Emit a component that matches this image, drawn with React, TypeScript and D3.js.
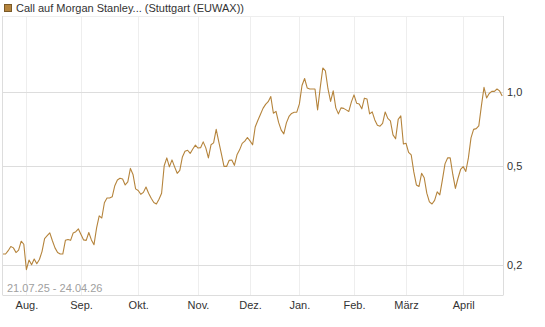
import React, { useRef, useEffect } from 'react';
import * as d3 from 'd3';

// one value per trading day, 21.07.25 - 24.04.26
const prices: number[] = [
  0.221, 0.221, 0.228, 0.237, 0.234, 0.224, 0.229, 0.249, 0.242, 0.191,
  0.209, 0.200, 0.211, 0.202, 0.210, 0.226, 0.255, 0.262, 0.269, 0.250,
  0.234, 0.224, 0.221, 0.221, 0.251, 0.253, 0.251, 0.269, 0.272, 0.279,
  0.265, 0.252, 0.251, 0.270, 0.252, 0.241, 0.282, 0.315, 0.309, 0.356,
  0.372, 0.372, 0.376, 0.417, 0.440, 0.447, 0.444, 0.420, 0.432, 0.490,
  0.463, 0.405, 0.399, 0.385, 0.392, 0.412, 0.389, 0.371, 0.357, 0.352,
  0.368, 0.389, 0.502, 0.540, 0.497, 0.530, 0.497, 0.468, 0.481, 0.545,
  0.574, 0.580, 0.563, 0.587, 0.608, 0.592, 0.594, 0.627, 0.593, 0.540,
  0.610, 0.621, 0.704, 0.627, 0.561, 0.499, 0.499, 0.528, 0.530, 0.504,
  0.556, 0.582, 0.618, 0.631, 0.653, 0.633, 0.610, 0.720, 0.765, 0.809,
  0.856, 0.888, 0.911, 0.955, 0.818, 0.832, 0.751, 0.699, 0.675, 0.748,
  0.794, 0.817, 0.826, 0.826, 0.892, 1.059, 1.130, 1.035, 1.025, 1.025,
  1.025, 0.844, 1.035, 1.246, 1.212, 1.025, 0.913, 1.007, 0.860, 0.813,
  0.860, 0.856, 0.844, 0.832, 0.909, 0.970, 0.898, 0.892, 0.852, 0.941,
  0.934, 0.813, 0.828, 0.769, 0.731, 0.725, 0.744, 0.828, 0.780, 0.762,
  0.669, 0.645, 0.773, 0.798, 0.615, 0.619, 0.569, 0.556, 0.474, 0.420,
  0.414, 0.468, 0.449, 0.389, 0.359, 0.352, 0.364, 0.394, 0.383, 0.440,
  0.511, 0.540, 0.540, 0.463, 0.407, 0.447, 0.485, 0.498, 0.476, 0.540,
  0.651, 0.704, 0.709, 0.727, 0.876, 1.040, 0.943, 0.983, 1.002, 1.002,
  1.025, 1.007, 0.961,
];

// first trading day of each month (index into prices)
const monthLabels: string[] = ['Aug.', 'Sep.', 'Okt.', 'Nov.', 'Dez.', 'Jan.', 'Feb.', 'März', 'April'];
const monthStarts: number[] = [9, 30, 52, 75, 95, 114, 135, 155, 177];

const yTicks: number[] = [0.2, 0.5, 1.0];
const yTickLabels: string[] = ['0,2', '0,5', '1,0'];

const title = 'Call auf Morgan Stanley... (Stuttgart (EUWAX))';
const rangeLabel = '21.07.25 - 24.04.26';

const LINE_COLOR = '#b5843c';
const FONT = 'Arial, "Liberation Sans", sans-serif';

const App = () => {
  const ref = useRef<SVGSVGElement>(null);

  useEffect(() => {
    const width = 545;
    const height = 327;
    const plot = { left: 3, right: 503, top: 16, bottom: 295 };

    const svg = d3.select(ref.current)
      .attr('width', width)
      .attr('height', height);

    svg.selectAll('*').remove();

    const x = d3.scaleLinear()
      .domain([0, prices.length - 1])
      .range([plot.left, plot.right - 0.8]);

    const y = d3.scaleLog()
      .domain([0.151, 2.02])
      .range([plot.bottom, plot.top]);

    svg.append('rect')
      .attr('width', width)
      .attr('height', height)
      .attr('fill', '#fff');

    // vertical month grid
    svg.append('g')
      .selectAll('line')
      .data(monthStarts)
      .join('line')
      .attr('x1', d => Math.round(x(d)) + 0.5)
      .attr('x2', d => Math.round(x(d)) + 0.5)
      .attr('y1', plot.top)
      .attr('y2', plot.bottom)
      .attr('stroke', '#eeeeee')
      .attr('stroke-width', 1);

    // horizontal grid
    svg.append('g')
      .selectAll('line')
      .data(yTicks)
      .join('line')
      .attr('x1', plot.left)
      .attr('x2', plot.right)
      .attr('y1', d => Math.round(y(d)) + 0.5)
      .attr('y2', d => Math.round(y(d)) + 0.5)
      .attr('stroke', '#dddddd')
      .attr('stroke-width', 1);

    // frame
    svg.append('line')
      .attr('x1', plot.left).attr('x2', plot.right)
      .attr('y1', plot.top + 0.5).attr('y2', plot.top + 0.5)
      .attr('stroke', '#eeeeee');
    svg.append('line')
      .attr('x1', plot.left - 0.5).attr('x2', plot.right + 0.5)
      .attr('y1', plot.bottom + 0.5).attr('y2', plot.bottom + 0.5)
      .attr('stroke', '#dddddd');
    svg.append('line')
      .attr('x1', plot.left - 0.5).attr('x2', plot.left - 0.5)
      .attr('y1', plot.top).attr('y2', plot.bottom)
      .attr('stroke', '#dddddd');
    svg.append('line')
      .attr('x1', plot.right + 0.5).attr('x2', plot.right + 0.5)
      .attr('y1', plot.top).attr('y2', plot.bottom)
      .attr('stroke', '#dddddd');

    // y labels on the right
    svg.append('g')
      .selectAll('text')
      .data(yTicks)
      .join('text')
      .attr('x', plot.right + 4)
      .attr('y', d => y(d) + 4)
      .attr('font-family', FONT)
      .attr('font-size', 11)
      .attr('fill', '#333')
      .text((d, i) => yTickLabels[i]);

    // month labels
    svg.append('g')
      .selectAll('text')
      .data(monthStarts)
      .join('text')
      .attr('x', d => x(d) + 0.5)
      .attr('y', 309)
      .attr('text-anchor', 'middle')
      .attr('font-family', FONT)
      .attr('font-size', 11)
      .attr('fill', '#333')
      .text((d, i) => monthLabels[i]);

    svg.append('text')
      .attr('x', 7)
      .attr('y', 292)
      .attr('font-family', FONT)
      .attr('font-size', 11)
      .attr('fill', '#a0a0a0')
      .text(rangeLabel);

    const line = d3.line<number>()
      .x((d, i) => x(i))
      .y(d => y(d));

    svg.append('path')
      .datum(prices)
      .attr('fill', 'none')
      .attr('stroke', LINE_COLOR)
      .attr('stroke-width', 1.1)
      .attr('stroke-linejoin', 'round')
      .attr('d', line);

    // legend
    svg.append('rect')
      .attr('x', 4.5)
      .attr('y', 4.5)
      .attr('width', 7)
      .attr('height', 7)
      .attr('fill', LINE_COLOR)
      .attr('stroke', '#7a5a28');

    svg.append('text')
      .attr('x', 16)
      .attr('y', 12)
      .attr('font-family', FONT)
      .attr('font-size', 11)
      .attr('fill', '#333')
      .text(title);
  }, []);

  return <svg ref={ref} style={{ position: 'absolute', left: 0, top: 0, display: 'block' }}></svg>;
};

export default App;
